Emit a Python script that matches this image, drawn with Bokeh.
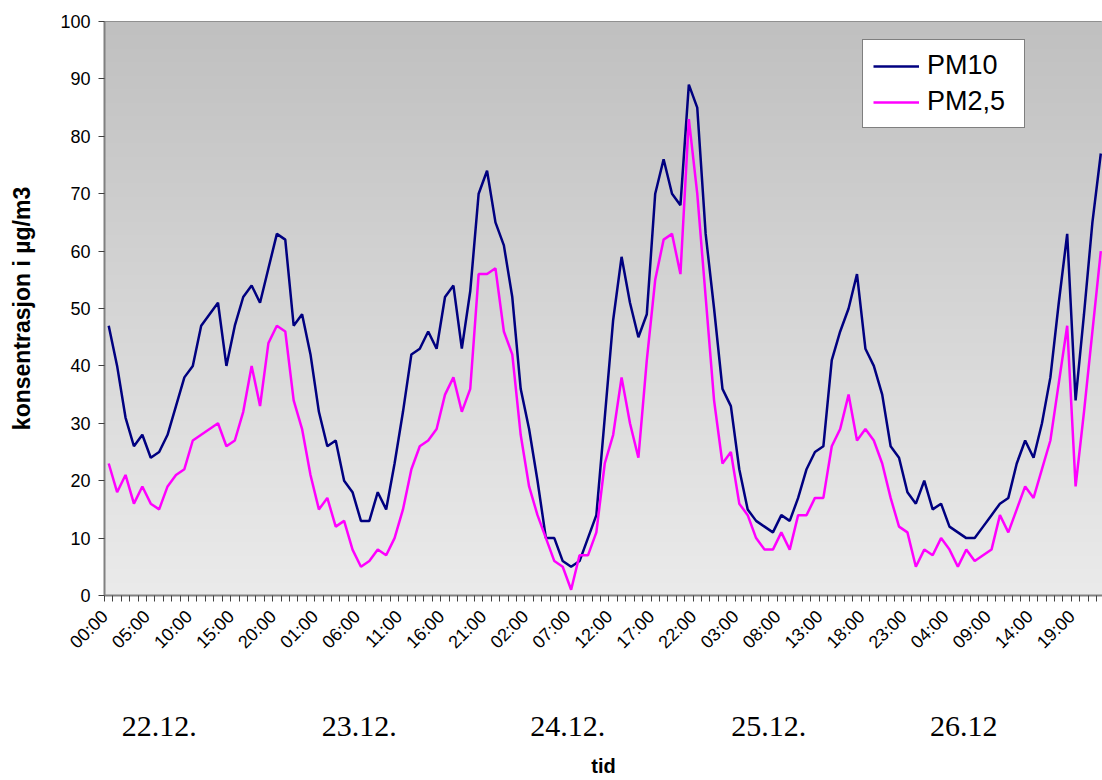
import math
import numpy as np
from bokeh.plotting import figure
from bokeh.models import (FixedTicker, LinearAxis, Range1d, Legend, LegendItem)
from bokeh.embed import file_html
from bokeh.resources import INLINE

# ---- data: hourly values 22.12 00:00 ... 26.12 22:00 ----
pm10 = [47, 40, 31, 26, 28, 24, 25, 28, 33, 38, 40, 47, 49, 51, 40, 47, 52, 54, 51, 57,
        63, 62, 47, 49, 42, 32, 26, 27, 20, 18, 13, 13, 18, 15, 23, 32, 42, 43, 46, 43,
        52, 54, 43, 53, 70, 74, 65, 61, 52, 36, 29, 20, 10, 10, 6, 5, 6, 10, 14, 31,
        48, 59, 51, 45, 49, 70, 76, 70, 68, 89, 85, 63, 50, 36, 33, 22, 15, 13, 12, 11,
        14, 13, 17, 22, 25, 26, 41, 46, 50, 56, 43, 40, 35, 26, 24, 18, 16, 20, 15, 16,
        12, 11, 10, 10, 12, 14, 16, 17, 23, 27, 24, 30, 38, 51, 63, 34, 49, 65, 77]
pm25 = [23, 18, 21, 16, 19, 16, 15, 19, 21, 22, 27, 28, 29, 30, 26, 27, 32, 40, 33, 44,
        47, 46, 34, 29, 21, 15, 17, 12, 13, 8, 5, 6, 8, 7, 10, 15, 22, 26, 27, 29,
        35, 38, 32, 36, 56, 56, 57, 46, 42, 28, 19, 14, 10, 6, 5, 1, 7, 7, 11, 23,
        28, 38, 30, 24, 41, 55, 62, 63, 56, 83, 70, 52, 34, 23, 25, 16, 14, 10, 8, 8,
        11, 8, 14, 14, 17, 17, 26, 29, 35, 27, 29, 27, 23, 17, 12, 11, 5, 8, 7, 10,
        8, 5, 8, 6, 7, 8, 14, 11, 15, 19, 17, 22, 27, 37, 47, 19, 32, 46, 60]
hours = list(range(len(pm10)))

tick_hours = [0, 5, 10, 15, 20, 25, 30, 35, 40, 45, 50, 55, 60, 65, 70, 75,
              80, 85, 90, 95, 100, 105, 110, 115]
tick_labels = ["00:00", "05:00", "10:00", "15:00", "20:00", "01:00", "06:00", "11:00",
               "16:00", "21:00", "02:00", "07:00", "12:00", "17:00", "22:00", "03:00",
               "08:00", "13:00", "18:00", "23:00", "04:00", "09:00", "14:00", "19:00"]
day_labels = ["22.12.", "23.12.", "24.12.", "25.12.", "26.12"]
day_label_hours = [6.0, 29.8, 54.6, 78.5, 101.7]
y_ticks = [0, 10, 20, 30, 40, 50, 60, 70, 80, 90, 100]

X0, X1 = -0.5, 118.2
LABEL_SHIFT = -0.45   # rotated labels end a little left of their tick, as in the original

p = figure(width=1102, height=780, x_range=Range1d(X0, X1), y_range=Range1d(0, 100),
           output_backend="svg", toolbar_location=None, x_axis_type=None,
           min_border_left=104, min_border_top=21, min_border_right=0,
           min_border_bottom=185)
p.outline_line_color = "#808080"
p.outline_line_width = 1
p.background_fill_color = "white"
p.border_fill_color = "white"

# gradient background of plot area
n = 256
img = np.empty((n, 1), dtype=np.uint32)
view = img.view(dtype=np.uint8).reshape((n, 1, 4))
t = np.linspace(0, 1, n)
top = np.array([192, 192, 192]); bot = np.array([235, 235, 235])
for c in range(3):
    view[:, 0, c] = (bot[c] + (top[c] - bot[c]) * t).astype(np.uint8)
view[:, 0, 3] = 255
p.image_rgba(image=[img], x=X0, y=0, dw=X1 - X0, dh=100)

# grid
p.xgrid.visible = False
p.ygrid.ticker = FixedTicker(ticks=y_ticks)
p.ygrid.grid_line_color = "black"
p.ygrid.grid_line_width = 1

# y axis
ya = p.yaxis[0]
ya.ticker = FixedTicker(ticks=y_ticks, minor_ticks=[])
ya.axis_line_color = "#808080"
ya.axis_line_width = 2
ya.major_tick_line_color = "#404040"
ya.major_tick_out = 6
ya.major_tick_in = 0
ya.major_label_standoff = 8
ya.major_label_text_font = "Liberation Sans"
ya.major_label_text_font_size = "18px"
ya.major_label_text_color = "black"
ya.axis_label = "konsentrasjon i µg/m3"
ya.axis_label_text_font = "Liberation Sans"
ya.axis_label_text_font_style = "bold"
ya.axis_label_text_font_size = "23px"
ya.axis_label_text_color = "black"
ya.axis_label_standoff = 22

# x axis: hourly minor ticks
minor = [h - 0.5 for h in hours] + [hours[-1] + 0.5]
label_pos = [h + LABEL_SHIFT for h in tick_hours]
xa = LinearAxis(ticker=FixedTicker(ticks=label_pos, minor_ticks=minor),
                major_label_overrides={h: s for h, s in zip(label_pos, tick_labels)})
xa.axis_line_color = "#808080"
xa.axis_line_width = 2
xa.major_tick_line_color = None
xa.major_tick_out = 6
xa.minor_tick_line_color = "#404040"
xa.minor_tick_out = 6
xa.minor_tick_in = 0
xa.major_label_orientation = math.pi / 4
xa.major_label_standoff = 12
xa.major_label_text_font = "Liberation Sans"
xa.major_label_text_font_size = "18px"
xa.major_label_text_color = "black"
p.add_layout(xa, "below")

# second axis with day labels and title
da = LinearAxis(ticker=FixedTicker(ticks=day_label_hours, minor_ticks=[]),
                major_label_overrides={h: s for h, s in zip(day_label_hours, day_labels)})
da.axis_line_color = None
da.major_tick_line_color = None
da.minor_tick_line_color = None
da.major_tick_out = 0
da.major_label_standoff = 54
da.major_label_text_font = "Liberation Serif"
da.major_label_text_font_size = "30px"
da.major_label_text_color = "black"
da.axis_label = "tid"
da.axis_label_text_font = "Liberation Sans"
da.axis_label_text_font_style = "bold"
da.axis_label_text_font_size = "20px"
da.axis_label_text_color = "black"
da.axis_label_standoff = 16
p.add_layout(da, "below")

r10 = p.line(hours, pm10, line_color="#000080", line_width=2.5)
r25 = p.line(hours, pm25, line_color="#FF00FF", line_width=2.5)

legend = Legend(items=[LegendItem(label="PM10", renderers=[r10]),
                       LegendItem(label="PM2,5", renderers=[r25])],
                location=(758, 467))
legend.label_text_font = "Liberation Sans"
legend.label_text_font_size = "27px"
legend.label_text_color = "black"
legend.glyph_width = 46
legend.glyph_height = 30
legend.label_height = 30
legend.label_width = 87
legend.label_standoff = 8
legend.padding = 10
legend.spacing = 5
legend.margin = 0
legend.border_line_color = "black"
legend.border_line_width = 1
legend.background_fill_color = "white"
legend.background_fill_alpha = 1
p.add_layout(legend)

open("out.html", "w").write(file_html(p, INLINE))
